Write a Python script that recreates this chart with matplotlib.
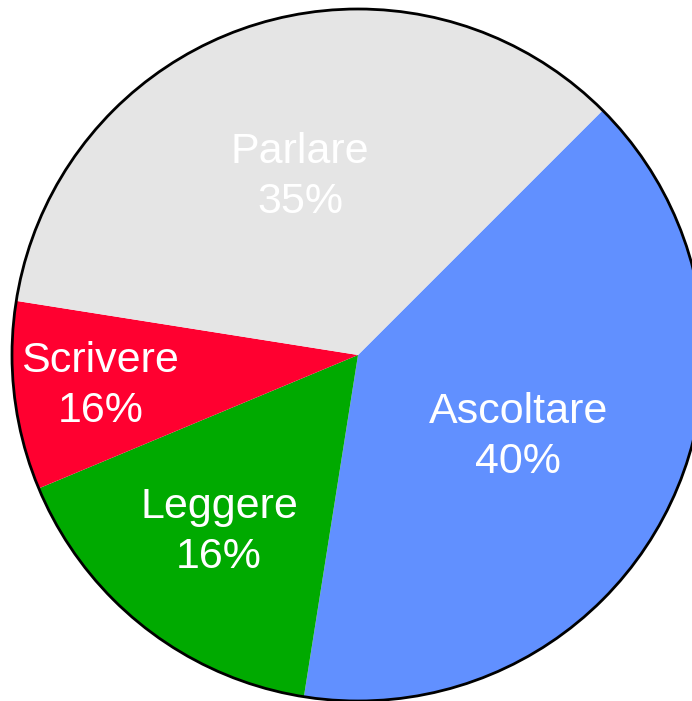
import numpy as np
import matplotlib.pyplot as plt
from matplotlib.patches import Circle

# slices, clockwise from the top-right
labels = ["Ascoltare", "Leggere", "Scrivere", "Parlare"]
values = [40, 16.2, 8.8, 35]
pct_text = ["40%", "16%", "16%", "35%"]
colors = ["#6190FF", "#00AA00", "#FF0030", "#E5E5E5"]
label_dist = [0.52, 0.65, 0.75, 0.54]

plt.rcParams['font.family'] = ['Liberation Sans', 'DejaVu Sans']

fig = plt.figure(figsize=(6.92, 7.01), dpi=100)
ax = fig.add_axes([0, 0, 1, 1])

wedges, _ = ax.pie(values, colors=colors, startangle=45, counterclock=False,
                   radius=1.0, wedgeprops=dict(linewidth=0))
ax.add_patch(Circle((0, 0), 1.0, fill=False, edgecolor='black', linewidth=2.0))

for w, name, pct, d in zip(wedges, labels, pct_text, label_dist):
    ang = np.deg2rad((w.theta1 + w.theta2) / 2)
    ax.text(d * np.cos(ang), d * np.sin(ang), name + "\n" + pct,
            ha='center', va='center', color='white', fontsize=31,
            linespacing=1.33)

ax.set_aspect('auto')
ax.set_xlim(-358 / 346, (692 - 358) / 346)
ax.set_ylim(-(701 - 355) / 346, 355 / 346)
ax.axis('off')

plt.savefig("out.png", dpi=100)
